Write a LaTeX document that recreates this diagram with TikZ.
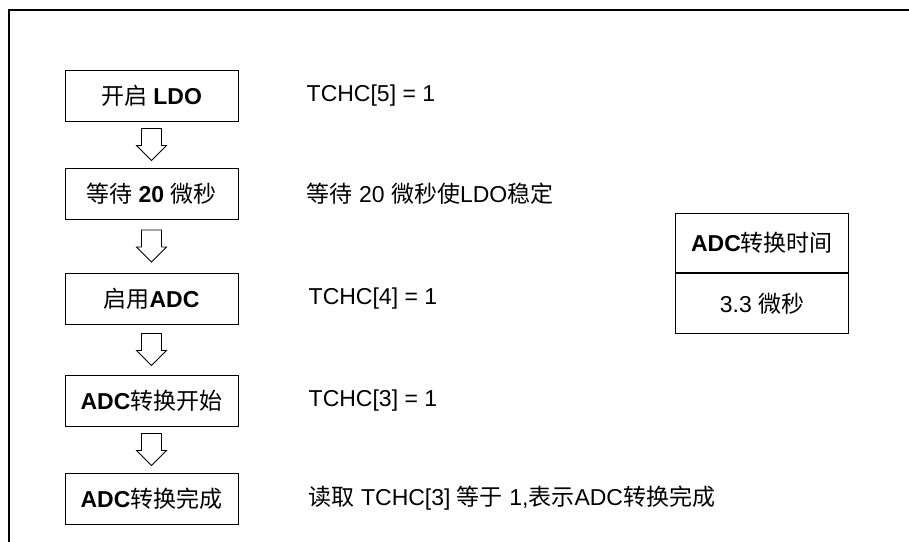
\documentclass[tikz,border=0pt]{standalone}
\usepackage{fontspec}
\setmainfont{Liberation Sans}
\newfontfamily\cjk{Noto Sans CJK SC}
\newcommand{\zh}[1]{{\cjk #1}}
\usetikzlibrary{positioning,calc}

\begin{document}
\begin{tikzpicture}[x=1pt,y=1pt,font=\fontsize{23}{28}\selectfont,
  stepbox/.style={draw,line width=1pt,minimum width=173pt,minimum height=51pt,inner sep=2pt},
  note/.style={anchor=west,inner sep=0pt},
  cell/.style={draw,line width=1pt,minimum width=173pt,inner sep=0pt},
  downarr/.pic={\draw[line width=0.8pt] (-10,16) -- (10,16) -- (10,-1) -- (15,-1)
                -- (0,-16) -- (-15,-1) -- (-10,-1) -- cycle;}]
\useasboundingbox (0,0) rectangle (909,-541);
\draw[line width=1.5pt] (9,-545) -- (9,-10) -- (915,-10);
\node[stepbox] (ldo) at (151.5,-95.5) {\zh{开启} \textbf{LDO}};
\node[stepbox,below=46pt of ldo] (wait) {\zh{等待} \textbf{20} \zh{微秒}};
\node[stepbox,below=53pt of wait] (en) {\zh{启用}\textbf{ADC}};
\node[stepbox,below=50pt of en] (start) {\textbf{ADC}\zh{转换开始}};
\node[stepbox,below=46pt of start] (done) {\textbf{ADC}\zh{转换完成}};
\node[note,right=68pt of ldo] (n1) {TCHC[5] = 1};
\node[note,right=68pt of wait] (n2) {\zh{等待} 20 \zh{微秒使}LDO\zh{稳定}};
\node[note,right=70pt of en] (n3) {TCHC[4] = 1};
\node[note,right=70pt of start] (n4) {TCHC[3] = 1};
\node[note,right=70pt of done] (n5) {\zh{读取} TCHC[3] \zh{等于} 1,\zh{表示}ADC\zh{转换完成}};
\node[cell,minimum height=59pt,anchor=north west] (head) at (675,-213) {\textbf{ADC}\zh{转换时间}};
\node[cell,minimum height=60pt,below=0pt of head] (val) {3.3 \zh{微秒}};
\path ($(ldo.south)!.5!(wait.north)$) pic{downarr}; \path ($(wait.south)!.5!(en.north)$) pic{downarr};
\path ($(en.south)!.5!(start.north)$) pic{downarr}; \path ($(start.south)!.5!(done.north)$) pic{downarr};
\end{tikzpicture}
\end{document}
